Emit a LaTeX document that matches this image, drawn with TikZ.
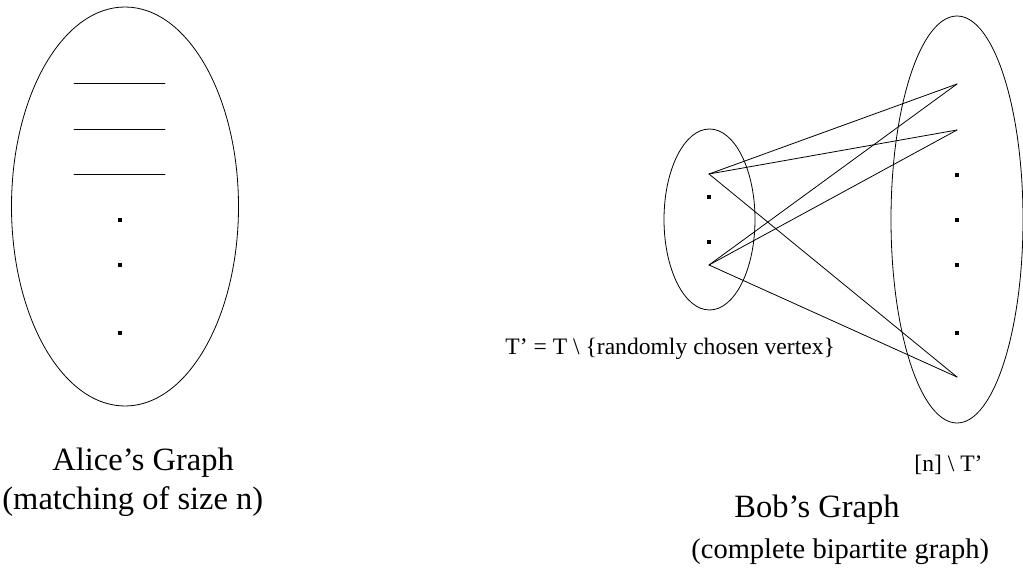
\documentclass[tikz,border=0pt]{standalone}
\usepackage{fontspec}
\setmainfont{Liberation Serif}
\usepackage{tikz}

\begin{document}
\begin{tikzpicture}[x=1pt,y=-1pt,line width=0.8pt,line cap=round,
  dot/.style={rectangle,fill=black,inner sep=0pt,minimum size=3.2pt},
  title/.style={anchor=base west,inner sep=0pt,font=\fontsize{32.5}{39}\selectfont},
  subtitle/.style={anchor=base west,inner sep=0pt,font=\fontsize{28.5}{34}\selectfont},
  note/.style={anchor=base west,inner sep=0pt,font=\fontsize{23.6}{28}\selectfont}]
\useasboundingbox (0,0) rectangle (1023,569);
% Alice's graph
\draw (125,206.5) ellipse [x radius=113.5,y radius=199.5];
\foreach \y [count=\i] in {83,129,174} {
  \coordinate (al\i) at (74,\y);
  \coordinate (ar\i) at (165,\y);
  \draw (al\i) -- (ar\i);
}
\node[dot] (ad1) at (120,220) {};
\node[dot] (ad2) at (120,265) {};
\node[dot] (ad3) at (120,333) {};
\node[title] (alice) at (52,470) {Alice's Graph};
\node[title] (alicesub) at (2,509) {(matching of size n)};
% Bob's graph
\draw (709.5,219.5) ellipse [x radius=45.5,y radius=90.5];
\draw (957,219.5) ellipse [x radius=66,y radius=203.5];
\coordinate (t1) at (709,174);
\coordinate (t2) at (709,265);
\coordinate (s1) at (957,84);
\coordinate (s2) at (957,130);
\coordinate (s3) at (957,377);
\foreach \u in {t1,t2}
  \foreach \v in {s1,s2,s3}
    \draw (\u) -- (\v);
\node[dot] (td1) at (709,197) {};
\node[dot] (td2) at (709,242) {};
\foreach \y [count=\i] in {175,220,265,333}
  \node[dot] (sd\i) at (957,\y) {};
\node[note] (tprime) at (505,355) {T' = T \textbackslash\ \{randomly chosen vertex\}};
\node[note] (rest) at (914,471) {[n] \textbackslash\ T'};
\node[title] (bob) at (734,517) {Bob's Graph};
\node[subtitle] (bobsub) at (691,558) {(complete bipartite graph)};
\end{tikzpicture}
\end{document}
